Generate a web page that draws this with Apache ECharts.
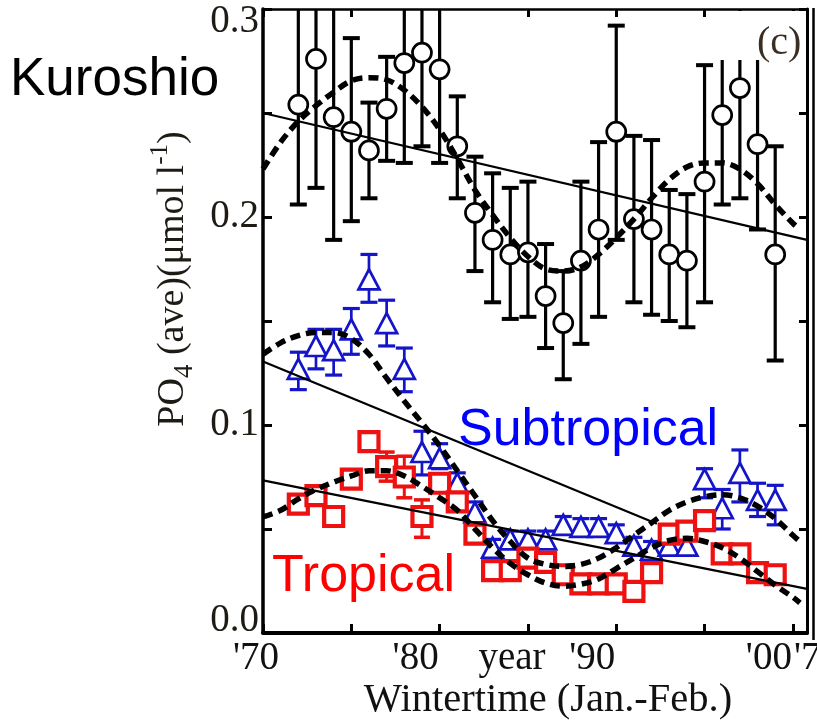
<!DOCTYPE html>
<html><head><meta charset="utf-8">
<script src="https://cdn.jsdelivr.net/npm/echarts@6/dist/echarts.min.js"></script>
<style>html,body{margin:0;padding:0;background:#fff}#c{width:817px;height:721px}</style>
</head><body><div id="c"></div>
<script>
// ---------- data ----------
const years = [1972,1973,1974,1975,1976,1977,1978,1979,1980,1981,1982,1983,1984,1985,1986,1987,1988,1989,1990,1991,1992,1993,1994,1995,1996,1997,1998,1999];

const kuroshio     = [0.254,0.276,0.248,0.241,0.232,0.252,0.274,0.279,0.271,0.234,0.202,0.189,0.182,0.183,0.162,0.149,0.179,0.194,0.241,0.199,0.194,0.182,0.179,0.217,0.249,0.262,0.235,0.182];
const kuroshioLow  = [0.206,0.214,0.189,0.198,0.209,0.227,0.226,0.234,0.226,0.209,0.174,0.159,0.151,0.152,0.137,0.122,0.139,0.152,0.189,0.159,0.153,0.150,0.147,0.159,0.206,0.209,0.194,0.131];
const kuroshioHigh = [0.305,0.338,0.307,0.286,0.255,0.277,0.322,0.324,0.316,0.258,0.229,0.221,0.214,0.217,0.187,0.174,0.217,0.236,0.292,0.239,0.237,0.213,0.211,0.273,0.292,0.315,0.285,0.234];

const subtropical  = [0.127,0.138,0.136,0.146,0.170,0.149,0.127,0.087,0.084,0.072,0.058,0.041,0.045,0.045,0.045,0.052,0.051,0.051,0.048,0.042,0.040,0.042,0.042,0.074,0.060,0.077,0.064,0.064];
const subLow       = [0.117,0.127,0.124,0.134,0.159,0.138,0.116,0.076,0.079,0.067,0.053,0.037,0.041,0.041,0.041,0.048,0.047,0.047,0.044,0.038,0.036,0.039,0.039,0.065,0.050,0.063,0.056,0.052];
const subHigh      = [0.135,0.146,0.146,0.156,0.182,0.160,0.137,0.097,0.091,0.077,0.063,0.045,0.049,0.049,0.049,0.056,0.055,0.055,0.052,0.046,0.044,0.045,0.045,0.079,0.069,0.088,0.072,0.071];

const tropical     = [0.062,0.066,0.056,0.074,0.092,0.080,0.075,0.056,0.072,0.063,0.0475,0.030,0.030,0.036,0.034,0.028,0.0236,0.0236,0.0236,0.020,0.029,0.0475,0.049,0.054,0.038,0.038,0.029,0.028];
const tropLow      = [0.058,0.062,0.052,0.070,0.088,0.073,0.065,0.046,0.068,0.059,0.044,0.026,0.026,0.032,0.030,0.024,0.020,0.020,0.020,0.016,0.025,0.044,0.045,0.050,0.034,0.034,0.025,0.024];
const tropHigh     = [0.066,0.070,0.060,0.078,0.096,0.087,0.085,0.064,0.076,0.067,0.051,0.034,0.034,0.040,0.038,0.032,0.027,0.027,0.027,0.024,0.033,0.051,0.053,0.058,0.042,0.042,0.033,0.032];

const smoothYears    = [1970,1971,1972,1973,1974,1975,1976,1977,1978,1979,1980,1981,1982,1983,1984,1985,1986,1987,1988,1989,1990,1991,1992,1993,1994,1995,1996,1997,1998,1999,2000,2000.4];
const kuroshioSmooth = [0.223,0.236,0.246,0.2535,0.260,0.2655,0.267,0.266,0.261,0.253,0.242,0.228,0.213,0.201,0.190,0.181,0.175,0.174,0.176,0.182,0.190,0.199,0.209,0.218,0.224,0.226,0.226,0.223,0.216,0.206,0.197,0.194];
const subSmooth      = [0.134,0.1395,0.143,0.1445,0.1445,0.1415,0.134,0.1225,0.1115,0.101,0.090,0.078,0.066,0.054,0.044,0.036,0.033,0.032,0.033,0.036,0.041,0.047,0.053,0.059,0.063,0.0655,0.0665,0.065,0.061,0.055,0.047,0.044];
const tropSmooth     = [0.0558,0.059,0.0645,0.069,0.0725,0.0755,0.078,0.078,0.0755,0.0705,0.065,0.059,0.050,0.041,0.0335,0.028,0.024,0.0225,0.0235,0.026,0.031,0.036,0.041,0.0445,0.0455,0.044,0.041,0.036,0.0295,0.023,0.0172,0.0145];

const kuroshioTrendX = [1970, 2000.8], kuroshioTrendY = [0.250, 0.189];
const subTrendX      = [1970, 1992.3], subTrendY      = [0.1305, 0.0525];
const tropTrendX     = [1970, 2000.8], tropTrendY     = [0.0734, 0.0212];

const xTickLabels = [[1970, "'70", 'a'], [1980, "'80", 'b'], [1985, 'year', 'c'], [1990, "'90", 'b'], [2000, "'00", 'b']];
const yTickLabels = [[0, '0.0', 'bot'], [0.1, '0.1', 'mid'], [0.2, '0.2', 'mid'], [0.3, '0.3', 'top']];

// ---------- helpers ----------
const SERIF = '"Liberation Serif","Times New Roman",serif';
const SANS = '"Liberation Sans",Arial,sans-serif';
const pairs = (xs, ys) => xs.map((x, i) => [x, ys[i]]);

function errorBars(low, high, color, lw, capW, capLw, z) {
  return {
    type: 'custom', z, silent: true, animation: false,
    data: years.map((y, i) => [y, low[i], high[i]]),
    encode: { x: 0, y: [1, 2] },
    renderItem(params, api) {
      const cs = params.coordSys;
      const xv = api.value(0);
      const pLo = api.coord([xv, api.value(1)]);
      const pHi = api.coord([xv, api.value(2)]);
      const x = pLo[0];
      const top = cs.y;
      const hiY = Math.max(pHi[1], top);
      const ch = [
        { type: 'line', shape: { x1: x, y1: pLo[1], x2: x, y2: hiY }, style: { stroke: color, lineWidth: lw } },
        { type: 'line', shape: { x1: x - capW / 2, y1: pLo[1], x2: x + capW / 2, y2: pLo[1] }, style: { stroke: color, lineWidth: capLw } }
      ];
      if (pHi[1] >= top) ch.push({ type: 'line', shape: { x1: x - capW / 2, y1: pHi[1], x2: x + capW / 2, y2: pHi[1] }, style: { stroke: color, lineWidth: capLw } });
      return { type: 'group', children: ch };
    }
  };
}
function dashed(xs, ys) {
  return { type: 'line', z: 6, data: pairs(xs, ys), showSymbol: false, smooth: 0.35, silent: true,
    lineStyle: { color: '#000', width: 5.5, type: [10, 6], cap: 'butt' } };
}
function trend(xs, ys) {
  return { type: 'line', z: 5, data: pairs(xs, ys), showSymbol: false, silent: true,
    lineStyle: { color: '#000', width: 2.2, type: 'solid' } };
}

const axisCommon = {
  type: 'value', splitLine: { show: false }, minorTick: { show: false }
};

const chart = echarts.init(document.getElementById('c'), null, { renderer: 'canvas' });
chart.setOption({
  animation: false,
  backgroundColor: '#fff',
  grid: { left: 263, top: 9, width: 544, height: 624, containLabel: false, outerBoundsMode: 'none' },
  xAxis: [
    Object.assign({}, axisCommon, {
      position: 'bottom', min: 1970, max: 2000.8, interval: 5,
      axisLine: { show: true, onZero: false, lineStyle: { color: '#000', width: 4 } },
      axisTick: { show: true, inside: true, length: 9, lineStyle: { color: '#000', width: 3 } },
      axisLabel: {
        show: true, margin: 6, fontSize: 39, fontFamily: SERIF, color: '#111',
        showMinLabel: true, showMaxLabel: false, hideOverlap: false,
        formatter: v => { const t = xTickLabels.find(l => Math.abs(l[0] - v) < 1e-6); return t ? '{' + t[2] + '|' + t[1] + '}' : ''; },
        rich: {
          a: { fontSize: 39, fontFamily: SERIF, color: '#111', padding: [0, 14, 0, 0] },
          b: { fontSize: 39, fontFamily: SERIF, color: '#111', padding: [0, 48, 0, 0] },
          c: { fontSize: 39, fontFamily: SERIF, color: '#111', padding: [0, 32, 0, 0] }
        }
      },
      name: 'Wintertime (Jan.-Feb.)', nameLocation: 'middle', nameGap: 47, nameMoveOverlap: false,
      nameTextStyle: { fontSize: 40.5, fontFamily: SERIF, color: '#111', padding: [0, 0, 0, 26] }
    }),
    Object.assign({}, axisCommon, {
      position: 'top', min: 1970, max: 2000.8, interval: 5,
      axisLine: { show: true, onZero: false, lineStyle: { color: '#000', width: 2.5 } },
      axisTick: { show: true, inside: true, length: 8, lineStyle: { color: '#000', width: 3 } },
      axisLabel: { show: false }
    })
  ],
  yAxis: [
    Object.assign({}, axisCommon, {
      position: 'left', min: 0, max: 0.3, interval: 0.05,
      axisLine: { show: true, onZero: false, lineStyle: { color: '#000', width: 3.5 } },
      axisTick: { show: true, inside: true, length: 9, lineStyle: { color: '#000', width: 3 } },
      axisLabel: {
        show: true, margin: 4, fontSize: 39, fontFamily: SERIF, color: '#1e1a14', hideOverlap: false,
        formatter: v => { const t = yTickLabels.find(l => Math.abs(l[0] - v) < 1e-6); return t ? '{' + t[2] + '|' + t[1] + '}' : ''; },
        rich: {
          top: { fontSize: 39, fontFamily: SERIF, color: '#1e1a14', padding: [26, 0, 0, 0] },
          mid: { fontSize: 39, fontFamily: SERIF, color: '#1e1a14' },
          bot: { fontSize: 39, fontFamily: SERIF, color: '#1e1a14', padding: [0, 0, 24, 0] }
        }
      }
    }),
    Object.assign({}, axisCommon, {
      position: 'right', min: 0, max: 0.3, interval: 0.05,
      axisLine: { show: true, onZero: false, lineStyle: { color: '#000', width: 3 } },
      axisTick: { show: true, inside: true, length: 8, lineStyle: { color: '#000', width: 3 } },
      axisLabel: { show: false }
    })
  ],
  series: [
    errorBars(kuroshioLow, kuroshioHigh, '#000', 3.2, 17, 4, 2),
    { type: 'scatter', z: 3, data: pairs(years, kuroshio), symbol: 'circle', symbolSize: 19, silent: true,
      itemStyle: { color: '#fff', borderColor: '#000', borderWidth: 2.7, opacity: 1 } },
    errorBars(subLow, subHigh, '#1414c8', 2.7, 17, 3.2, 2),
    { type: 'scatter', z: 3, data: pairs(years, subtropical), symbol: 'triangle', symbolSize: [21, 20], silent: true,
      itemStyle: { color: '#fff', borderColor: '#1414c8', borderWidth: 2.7, opacity: 1 } },
    errorBars(tropLow, tropHigh, '#ee1111', 3, 16, 3.5, 3),
    { type: 'scatter', z: 4, data: pairs(years, tropical), symbol: 'rect', symbolSize: 19, silent: true,
      itemStyle: { color: '#fff', borderColor: '#ee1111', borderWidth: 4.2, opacity: 1 } },
    trend(kuroshioTrendX, kuroshioTrendY),
    trend(subTrendX, subTrendY),
    trend(tropTrendX, tropTrendY),
    dashed(smoothYears, kuroshioSmooth),
    dashed(smoothYears, subSmooth),
    dashed(smoothYears, tropSmooth)
  ],
  graphic: [
    { type: 'rect', z: 50, shape: { x: 712, y: 11, width: 93, height: 49 }, style: { fill: '#fff' } },
    { type: 'text', z: 51, x: 757, y: 43, style: { text: '(c)', font: '40px ' + SERIF, fill: '#3a2e22', align: 'left', verticalAlign: 'middle' } },
    { type: 'text', z: 51, x: 10, y: 80, style: { text: 'Kuroshio', font: '53px ' + SANS, fill: '#000', align: 'left', verticalAlign: 'middle' } },
    { type: 'text', z: 51, x: 458, y: 431, style: { text: 'Subtropical', font: '52px ' + SANS, fill: '#0000ff', align: 'left', verticalAlign: 'middle' } },
    { type: 'text', z: 51, x: 272, y: 577, style: { text: 'Tropical', font: '52px ' + SANS, fill: '#ff0000', align: 'left', verticalAlign: 'middle' } },
    { type: 'text', z: 51, x: 173, y: 279, rotation: Math.PI / 2,
      style: {
        text: '{n|PO}{s|4}{n| (ave)(μmol l}{p|-1}{n|)}', align: 'center', verticalAlign: 'middle', fill: '#1e1a14',
        rich: {
          n: { fontSize: 38, fontFamily: SERIF, fill: '#1e1a14', lineHeight: 50, verticalAlign: 'middle' },
          s: { fontSize: 27, fontFamily: SERIF, fill: '#1e1a14', lineHeight: 27, verticalAlign: 'bottom' },
          p: { fontSize: 25, fontFamily: SERIF, fill: '#1e1a14', lineHeight: 25, verticalAlign: 'top' }
        }
      } },
    { type: 'line', z: 51, shape: { x1: 813.5, y1: 8, x2: 813.5, y2: 640 }, style: { stroke: '#000', lineWidth: 2.5 } },
    { type: 'text', z: 51, x: 794, y: 639, style: { text: "'70", font: '39px ' + SERIF, fill: '#111', align: 'left', verticalAlign: 'top' } }
  ]
});
</script>
</body></html>
